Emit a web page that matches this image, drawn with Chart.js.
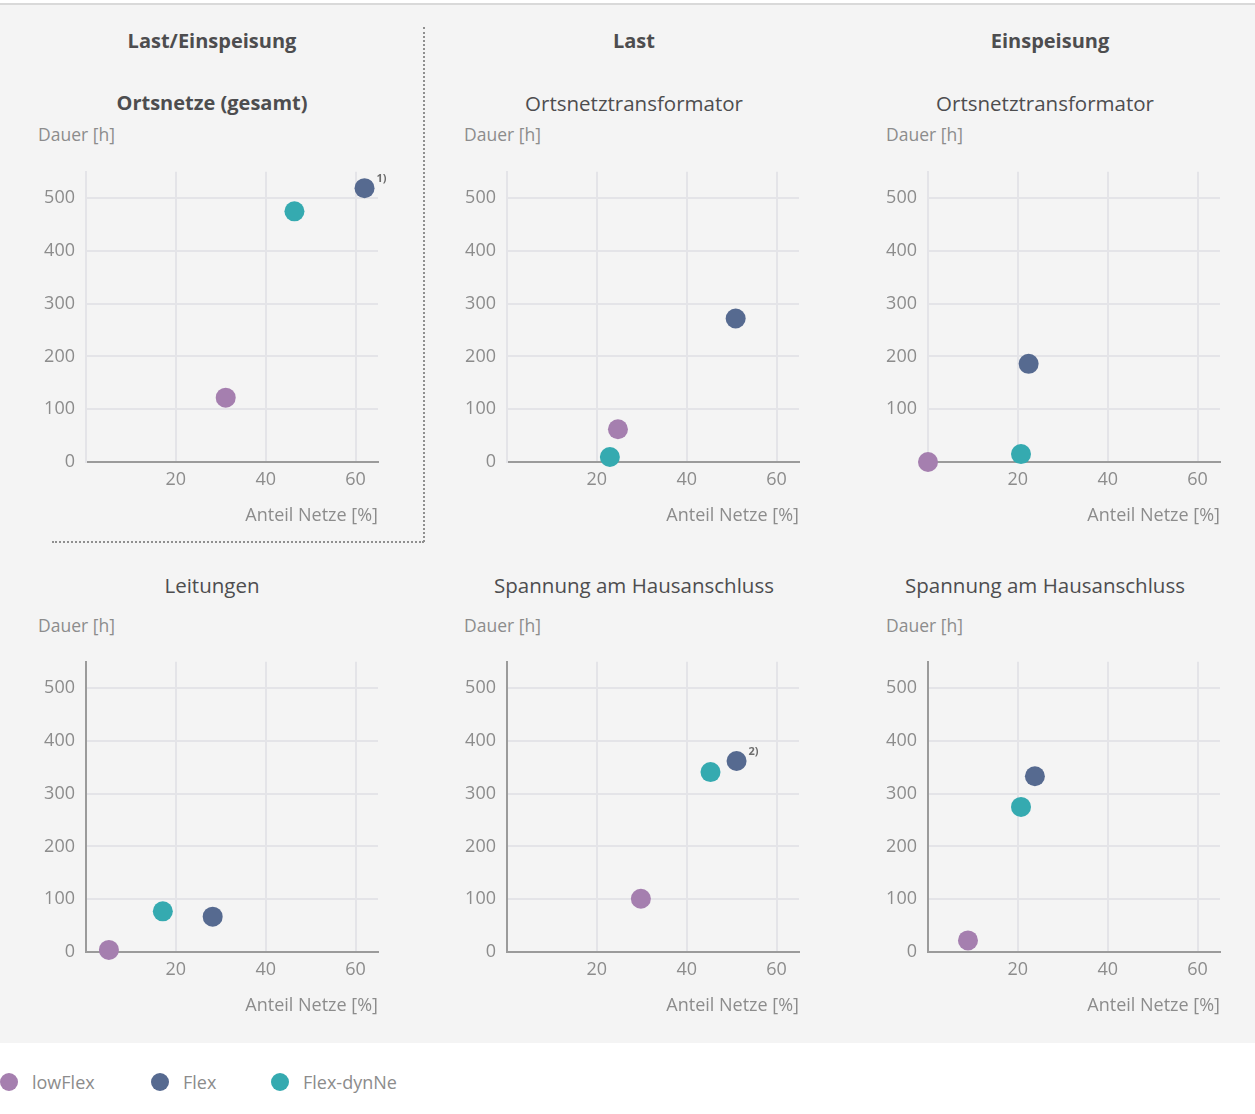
<!DOCTYPE html>
<html>
<head>
<meta charset="utf-8">
<script src="https://cdn.jsdelivr.net/npm/chart.js@4"></script>
<style>
  body { margin: 0; background: #fff; font-family: "Open Sans", sans-serif; }
  #page { position: relative; width: 1255px; height: 1114px; }
  #panel { position: absolute; left: 0; top: 3px; width: 1255px; height: 1040px; background: #f4f4f4; border-top: 2px solid #d9d9d9; box-sizing: border-box; }
  .txt { position: absolute; white-space: nowrap; line-height: 24px; height: 24px; }
  .head { font-weight: 700; font-size: 20px; color: #4d4d4f; transform: translateX(-50%); }
  .sub { font-size: 20.5px; color: #4d4d4f; transform: translateX(-50%); }
  .unit { font-size: 17.5px; color: #8c8c8c; }
  .box { position: absolute; width: 360px; height: 382px; }
  .legend { position: absolute; font-size: 18px; color: #8c8c8c; line-height: 24px; }
  .legend span.dot { position: absolute; left: -32px; top: 3px; width: 18px; height: 18px; border-radius: 50%; }
</style>
</head>
<body>
<div id="page">
  <div id="panel"></div>
  <div style="position:absolute;left:423px;top:27px;height:515px;border-left:2px dotted #8f8f8f;"></div>
  <div style="position:absolute;left:52px;top:541px;width:372px;border-top:2px dotted #8f8f8f;"></div>
  <div id="labels"></div>
  <div id="charts"></div>
  <div id="legend"></div>
</div>
<script>
// each chart: one point per scenario
const seriesNames = ['lowFlex', 'Flex', 'Flex-dynNe'];
const seriesColors = ['#a57faf', '#566a90', '#35aab0'];

const groupTitles = ['Last/Einspeisung', 'Last', 'Einspeisung'];
const chartTitles = ['Ortsnetze (gesamt)', 'Ortsnetztransformator', 'Ortsnetztransformator',
                     'Leitungen', 'Spannung am Hausanschluss', 'Spannung am Hausanschluss'];

const xLowFlex = [31.1, 24.7, 0, 5.1, 29.8, 8.9];
const yLowFlex = [122, 62, 0, 4, 101, 22];
const xFlex = [62, 50.9, 22.4, 28.2, 51.1, 23.8];
const yFlex = [519, 272, 186, 67, 362, 333];
const xDyn = [46.4, 22.9, 20.7, 17.1, 45.3, 20.7];
const yDyn = [475, 9.4, 15, 77, 341, 275];

const xTicks = [0, 20, 40, 60];
const yTicks = [0, 100, 200, 300, 400, 500];

// footnotes: [chart, series, text]
const notes = [[0, 1, '1)'], [4, 1, '2)']];

const yTitle = 'Dauer [h]';
const xTitle = 'Anteil Netze [%]';

const colLeft = [86, 507, 928];
const unitLeft = [38, 464, 886];
const colCenter = [212, 634, 1045];
const headCenter = [212, 634, 1050];
const rowTop = [170, 660];

const labels = document.getElementById('labels');
function addText(cls, text, x, y) {
  const d = document.createElement('div');
  d.className = 'txt ' + cls;
  d.textContent = text;
  d.style.left = x + 'px';
  d.style.top = (y - 12) + 'px';
  labels.appendChild(d);
}
groupTitles.forEach((t, i) => addText('head', t, headCenter[i], 41));

const noteplugin = {
  id: 'notes',
  afterDatasetsDraw(chart) {
    const ctx = chart.ctx;
    notes.forEach(n => {
      if (n[0] !== chart.options.idx) return;
      const el = chart.getDatasetMeta(n[1]).data[0];
      ctx.save();
      ctx.font = 'bold 11px "Open Sans"';
      ctx.fillStyle = '#6d6d6d';
      ctx.textAlign = 'center';
      ctx.textBaseline = 'middle';
      ctx.fillText(n[2], el.x + 17, el.y - 9);
      ctx.restore();
    });
  }
};

for (let i = 0; i < 6; i++) {
  const row = Math.floor(i / 3), col = i % 3;
  addText(i === 0 ? 'head' : 'sub', chartTitles[i], colCenter[col], 103 + row * 482);
  addText('unit', yTitle, unitLeft[col], 134 + row * 491);

  const box = document.createElement('div');
  box.className = 'box';
  box.style.left = (colLeft[col] - 56) + 'px';
  box.style.top = (rowTop[row] - 20) + 'px';
  const cv = document.createElement('canvas');
  box.appendChild(cv);
  document.getElementById('charts').appendChild(box);

  const pts = [[xLowFlex[i], yLowFlex[i]], [xFlex[i], yFlex[i]], [xDyn[i], yDyn[i]]];
  const hideZero = (i === 2);

  new Chart(cv, {
    type: 'scatter',
    data: {
      datasets: seriesNames.map((s, k) => ({
        label: s,
        data: [{x: pts[k][0], y: pts[k][1]}],
        backgroundColor: seriesColors[k],
        borderWidth: 0,
        pointRadius: 10,
        pointHoverRadius: 10,
        clip: false
      }))
    },
    options: {
      idx: i,
      responsive: true,
      maintainAspectRatio: false,
      animation: false,
      layout: { padding: { top: 20, right: 12, left: 0, bottom: 0 } },
      plugins: { legend: { display: false }, tooltip: { enabled: false } },
      scales: {
        x: {
          min: 0, max: 65,
          afterBuildTicks: sc => { sc.ticks = xTicks.map(v => ({value: v})); },
          afterFit: sc => { sc.height = 70; },
          grid: { color: '#e4e4e8', lineWidth: 2, drawTicks: false },
          border: { color: '#9b9b9b', width: 2 },
          ticks: {
            padding: 7,
            color: '#8c8c8c',
            font: { family: 'Open Sans', size: 18 },
            callback: v => v === 0 ? '' : v
          },
          title: {
            display: true, text: xTitle, align: 'end',
            color: '#8c8c8c', font: { family: 'Open Sans', size: 18 },
            padding: { top: 0, bottom: 5 }
          }
        },
        y: {
          min: 0, max: 550,
          afterBuildTicks: sc => { sc.ticks = yTicks.map(v => ({value: v})); },
          afterFit: sc => { sc.width = 56; },
          grid: { color: '#e4e4e8', lineWidth: 2, drawTicks: false },
          border: row === 0 ? { color: '#e4e4e8', width: 2 } : { color: '#9b9b9b', width: 2 },
          ticks: {
            padding: 11,
            color: '#8c8c8c',
            font: { family: 'Open Sans', size: 18 },
            callback: v => (v === 0 && hideZero) ? '' : v
          }
        }
      }
    },
    plugins: [noteplugin]
  });
}

const legendX = [32, 183, 303];
const lg = document.getElementById('legend');
seriesNames.forEach((s, k) => {
  const d = document.createElement('div');
  d.className = 'legend';
  d.style.left = legendX[k] + 'px';
  d.style.top = '1070px';
  d.innerHTML = '<span class="dot" style="background:' + seriesColors[k] + '"></span>' + s;
  lg.appendChild(d);
});
</script>
</body>
</html>
